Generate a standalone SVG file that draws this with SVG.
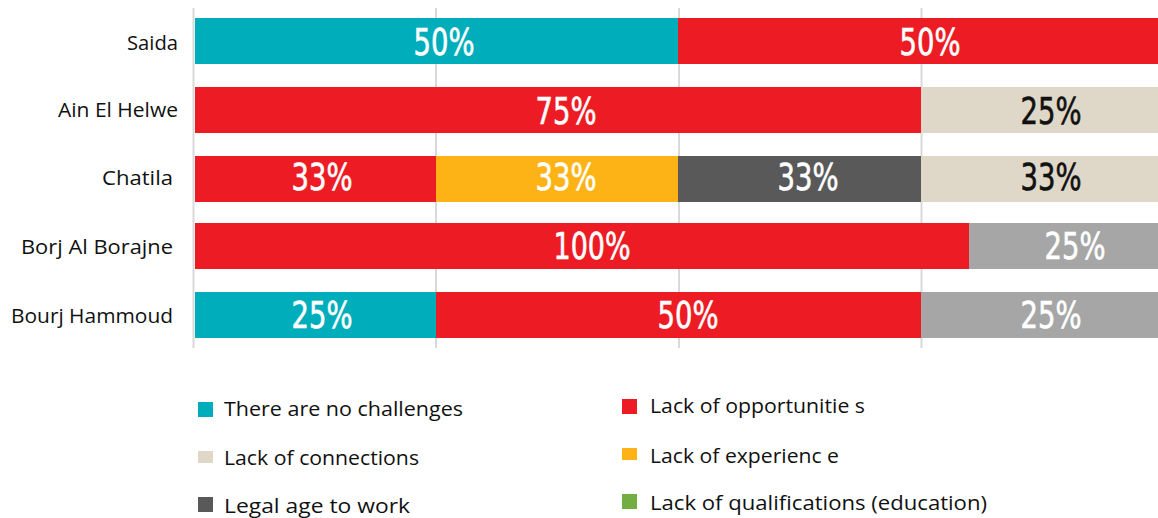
<svg xmlns="http://www.w3.org/2000/svg" width="1158" height="518" viewBox="0 0 1158 518">
<style>
.grid{stroke:#D9D9D9;stroke-width:2}
.teal{fill:#00ADBB}
.red{fill:#ED1C24}
.beige{fill:#DFD8C8}
.yellow{fill:#FDB316}
.dark{fill:#595959}
.grey{fill:#A5A6A5}
.green{fill:#72AE43}
.cat{font-family:"Open Sans","Lato","Liberation Sans",sans-serif;font-size:20px;fill:#111;text-anchor:end}
.pct{font-family:"Liberation Sans Narrow","DejaVu Sans Condensed","Liberation Sans",sans-serif;font-size:37px;fill:#fff;text-anchor:middle;stroke:#fff;stroke-width:0.6}
.pct.blk{fill:#111;stroke:#111}
.leg{font-family:"Open Sans","Lato","Liberation Sans",sans-serif;font-size:20px;fill:#111}
</style>
<rect width="1158" height="518" fill="#fff"/>
<g id="gridlines">
<line class="grid" x1="193.5" y1="8" x2="193.5" y2="348"/>
<line class="grid" x1="436" y1="8" x2="436" y2="348"/>
<line class="grid" x1="679" y1="8" x2="679" y2="348"/>
<line class="grid" x1="921.5" y1="8" x2="921.5" y2="348"/>
</g>
<g id="row-saida">
<rect class="teal" x="195" y="18" width="483" height="46"/>
<rect class="red" x="678" y="18" width="480" height="46"/>
<text class="cat" x="178" y="50" textLength="51" lengthAdjust="spacingAndGlyphs">Saida</text>
<text class="pct" x="444" y="55" textLength="61" lengthAdjust="spacingAndGlyphs">50%</text>
<text class="pct" x="930" y="55" textLength="61" lengthAdjust="spacingAndGlyphs">50%</text>
</g>
<g id="row-ain-el-helwe">
<rect class="red" x="195" y="87" width="726" height="46"/>
<rect class="beige" x="921" y="87" width="237" height="46"/>
<text class="cat" x="178" y="117" textLength="120" lengthAdjust="spacingAndGlyphs">Ain El Helwe</text>
<text class="pct" x="566" y="124" textLength="61" lengthAdjust="spacingAndGlyphs">75%</text>
<text class="pct blk" x="1051" y="124" textLength="61" lengthAdjust="spacingAndGlyphs">25%</text>
</g>
<g id="row-chatila">
<rect class="red" x="195" y="156" width="241" height="46"/>
<rect class="yellow" x="436" y="156" width="242" height="46"/>
<rect class="dark" x="678" y="156" width="243" height="46"/>
<rect class="beige" x="921" y="156" width="237" height="46"/>
<text class="cat" x="173" y="185" textLength="71" lengthAdjust="spacingAndGlyphs">Chatila</text>
<text class="pct" x="322" y="190" textLength="61" lengthAdjust="spacingAndGlyphs">33%</text>
<text class="pct" x="566" y="190" textLength="61" lengthAdjust="spacingAndGlyphs">33%</text>
<text class="pct" x="808" y="190" textLength="61" lengthAdjust="spacingAndGlyphs">33%</text>
<text class="pct blk" x="1051" y="190" textLength="61" lengthAdjust="spacingAndGlyphs">33%</text>
</g>
<g id="row-borj-al-borajne">
<rect class="red" x="195" y="223" width="774" height="46"/>
<rect class="grey" x="969" y="223" width="189" height="46"/>
<text class="cat" x="173" y="254" textLength="152" lengthAdjust="spacingAndGlyphs">Borj Al Borajne</text>
<text class="pct" x="592" y="259" textLength="77" lengthAdjust="spacingAndGlyphs">100%</text>
<text class="pct" x="1075" y="259" textLength="61" lengthAdjust="spacingAndGlyphs">25%</text>
</g>
<g id="row-bourj-hammoud">
<rect class="teal" x="195" y="292" width="241" height="46"/>
<rect class="red" x="436" y="292" width="485" height="46"/>
<rect class="grey" x="921" y="292" width="237" height="46"/>
<text class="cat" x="173" y="323" textLength="162" lengthAdjust="spacingAndGlyphs">Bourj Hammoud</text>
<text class="pct" x="322" y="328" textLength="61" lengthAdjust="spacingAndGlyphs">25%</text>
<text class="pct" x="688" y="328" textLength="61" lengthAdjust="spacingAndGlyphs">50%</text>
<text class="pct" x="1051" y="328" textLength="61" lengthAdjust="spacingAndGlyphs">25%</text>
</g>
<g id="legend">
<g id="legend-no-challenges">
<rect class="teal" x="198" y="402" width="15" height="15"/>
<text class="leg" x="224" y="416" textLength="239" lengthAdjust="spacingAndGlyphs">There are no challenges</text>
</g>
<g id="legend-connections">
<rect class="beige" x="198" y="451" width="15" height="12"/>
<text class="leg" x="224" y="465" textLength="195" lengthAdjust="spacingAndGlyphs">Lack of connections</text>
</g>
<g id="legend-legal-age">
<rect class="dark" x="198" y="497" width="15" height="15"/>
<text class="leg" x="224" y="513" textLength="186" lengthAdjust="spacingAndGlyphs">Legal age to work</text>
</g>
<g id="legend-opportunities">
<rect class="red" x="622" y="399" width="15" height="15"/>
<text class="leg" x="650" y="413" textLength="215" lengthAdjust="spacingAndGlyphs">Lack of opportunitie s</text>
</g>
<g id="legend-experience">
<rect class="yellow" x="622" y="448" width="15" height="12"/>
<text class="leg" x="650" y="463" textLength="189" lengthAdjust="spacingAndGlyphs">Lack of experienc e</text>
</g>
<g id="legend-qualifications">
<rect class="green" x="622" y="494" width="15" height="15"/>
<text class="leg" x="650" y="510" textLength="337" lengthAdjust="spacingAndGlyphs">Lack of qualifications (education)</text>
</g>
</g>
</svg>
